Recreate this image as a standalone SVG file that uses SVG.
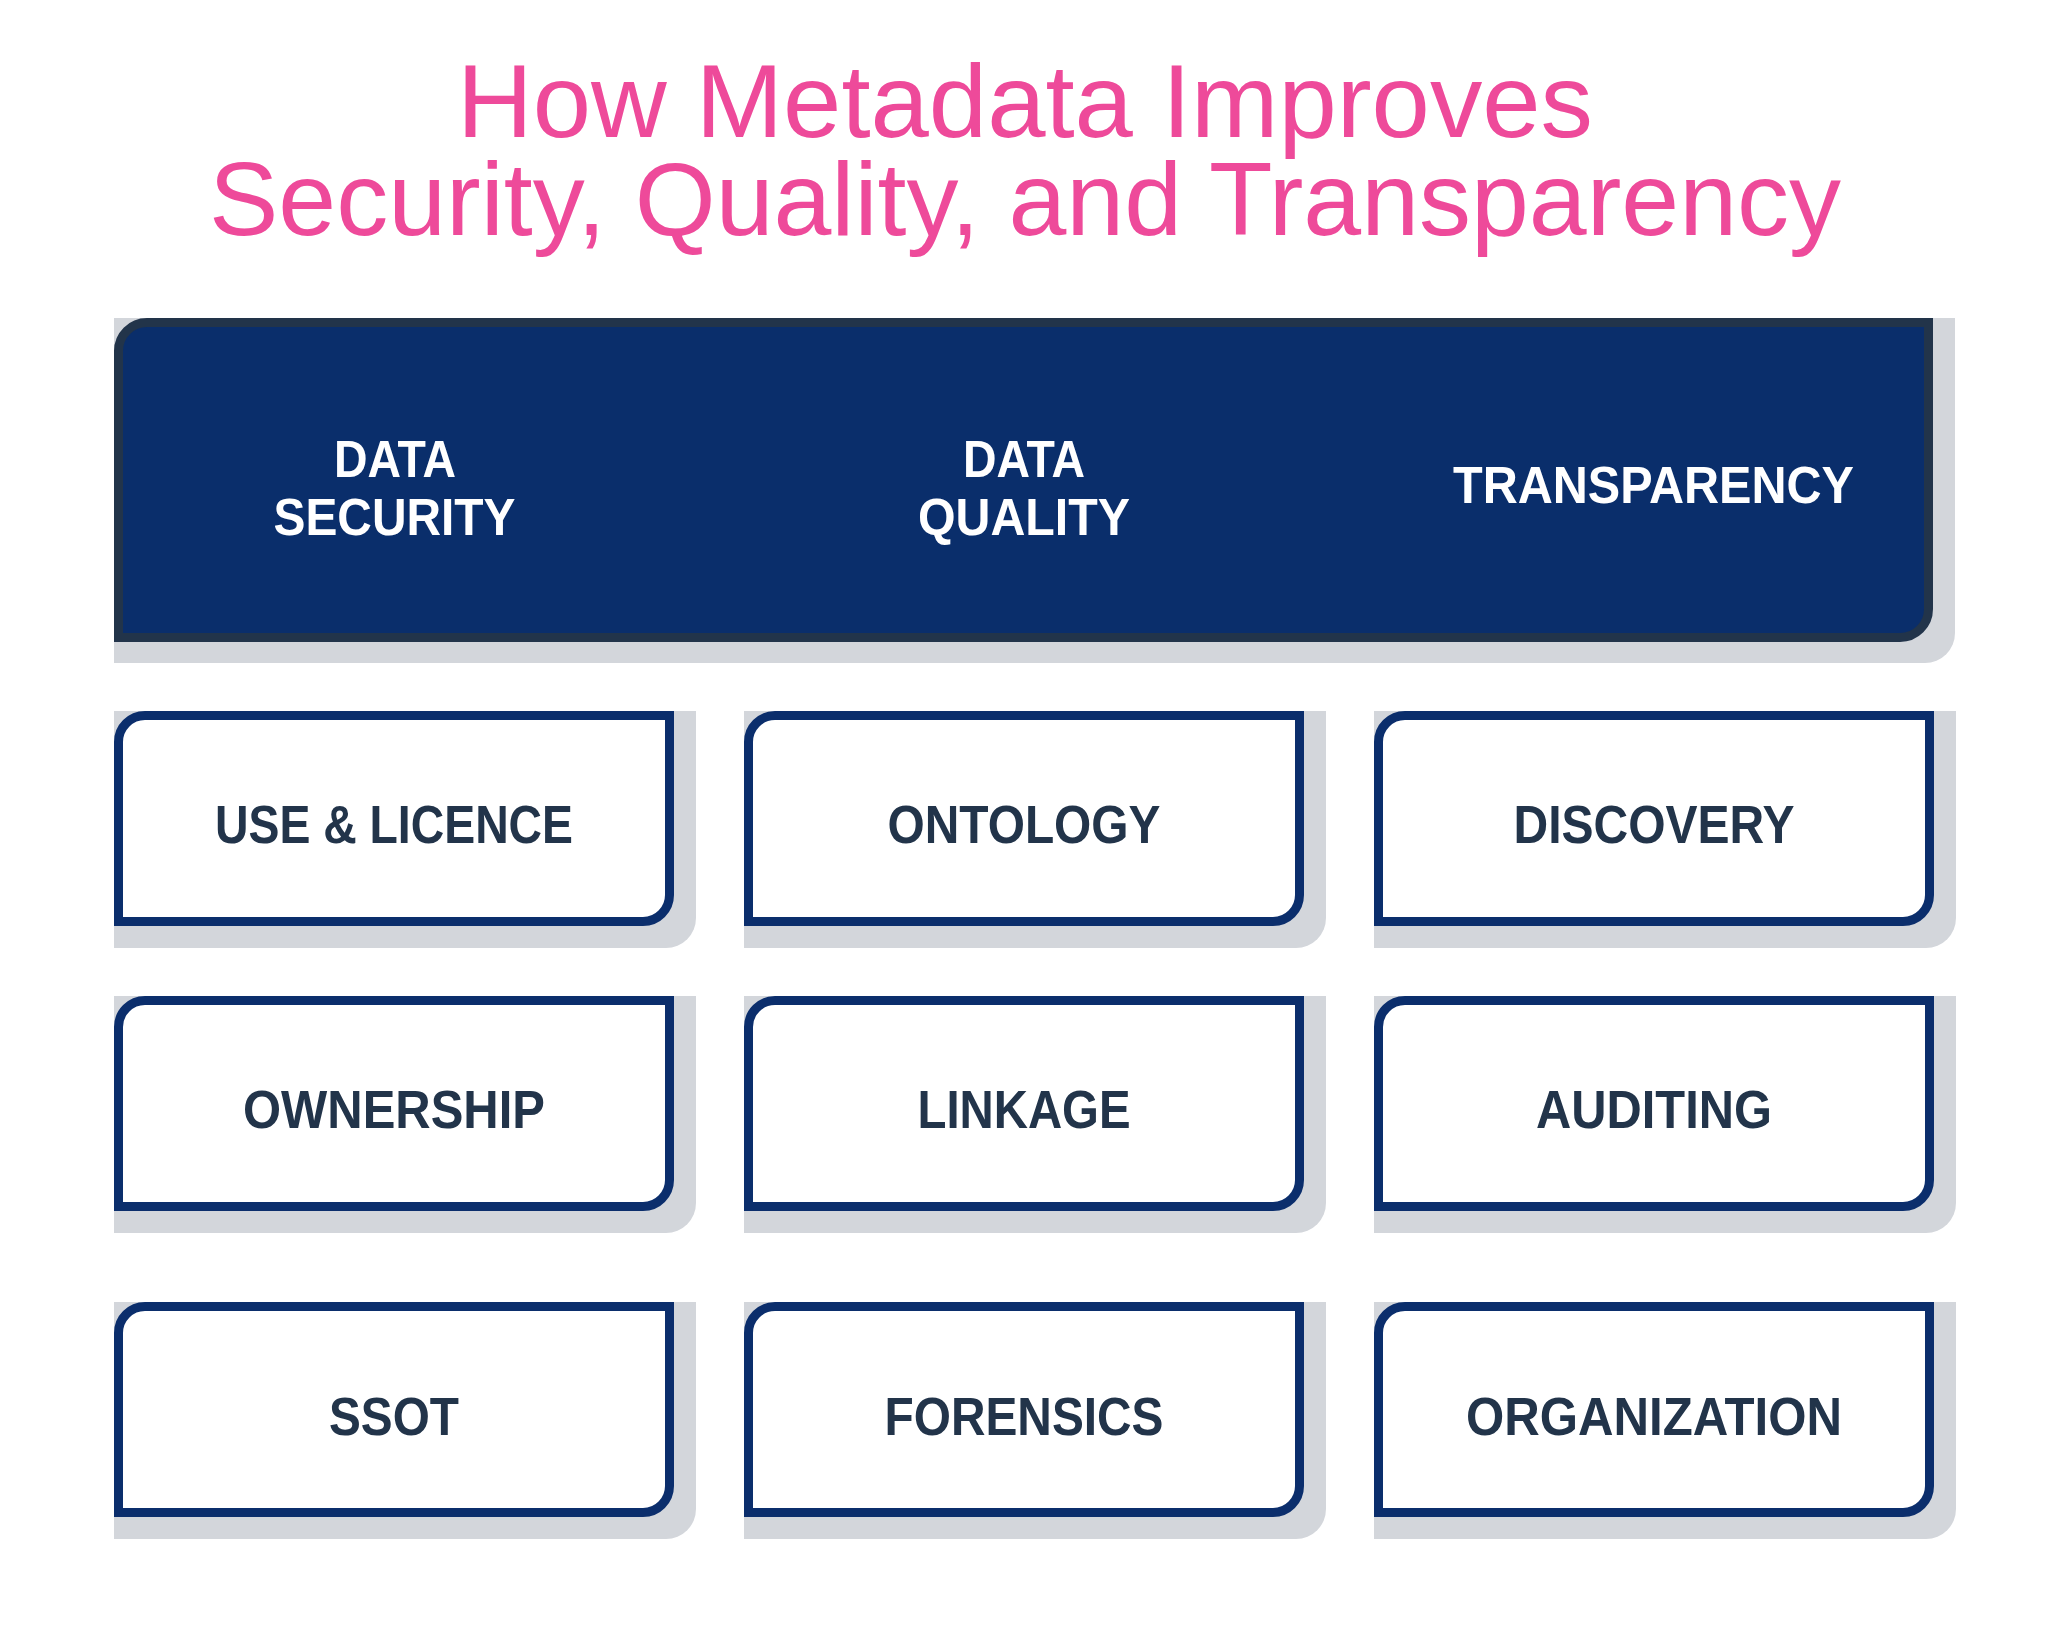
<svg xmlns="http://www.w3.org/2000/svg" width="2048" height="1651" viewBox="0 0 2048 1651">
<style>
.title{font-family:"Liberation Sans",Arial,sans-serif;font-size:104px;fill:#EE4A9A;text-anchor:middle}
.hdr{font-family:"Liberation Sans",Arial,sans-serif;font-weight:bold;font-size:51px;fill:#FFFFFF;text-anchor:middle}
.lbl{font-family:"Liberation Sans",Arial,sans-serif;font-weight:bold;font-size:53px;fill:#22344A;text-anchor:middle}
.shadow{fill:#D3D6DB}
.card{fill:#FFFFFF;stroke:#0B2E6C;stroke-width:9}
</style>
<defs>
<path id="card-shadow" d="M0,0 H582 V207 A30,30 0 0 1 552,237 H0 Z"/>
<path id="card-box" d="M4.5,31 A26.5,26.5 0 0 1 31,4.5 H555.5 V184 A26.5,26.5 0 0 1 529,210.5 H4.5 Z"/>
</defs>
<rect width="2048" height="1651" fill="#FFFFFF"/>
<g id="title">
<text class="title" x="1025" y="137" textLength="1136" lengthAdjust="spacingAndGlyphs">How Metadata Improves</text>
<text class="title" x="1025" y="235" textLength="1632" lengthAdjust="spacingAndGlyphs">Security, Quality, and Transparency</text>
</g>
<g id="header">
<path class="shadow" d="M114,318 H1955 V633 A30,30 0 0 1 1925,663 H114 Z"/>
<path d="M118.5,351 A28.5,28.5 0 0 1 147,322.5 H1928.5 V609 A28.5,28.5 0 0 1 1900,637.5 H118.5 Z" fill="#0A2E6B" stroke="#22344A" stroke-width="9"/>
<text class="hdr" x="395" y="477" textLength="122" lengthAdjust="spacingAndGlyphs">DATA</text>
<text class="hdr" x="394.5" y="535" textLength="242" lengthAdjust="spacingAndGlyphs">SECURITY</text>
<text class="hdr" x="1024" y="477" textLength="122" lengthAdjust="spacingAndGlyphs">DATA</text>
<text class="hdr" x="1024" y="535" textLength="212" lengthAdjust="spacingAndGlyphs">QUALITY</text>
<text class="hdr" x="1653.5" y="503" textLength="401" lengthAdjust="spacingAndGlyphs">TRANSPARENCY</text>
</g>
<g id="node-use-licence" transform="translate(114,711)">
<use href="#card-shadow" class="shadow"/><use href="#card-box" class="card"/>
<text class="lbl" x="280" y="132" textLength="358" lengthAdjust="spacingAndGlyphs">USE &amp; LICENCE</text>
</g>
<g id="node-ontology" transform="translate(744,711)">
<use href="#card-shadow" class="shadow"/><use href="#card-box" class="card"/>
<text class="lbl" x="280" y="132" textLength="273" lengthAdjust="spacingAndGlyphs">ONTOLOGY</text>
</g>
<g id="node-discovery" transform="translate(1374,711)">
<use href="#card-shadow" class="shadow"/><use href="#card-box" class="card"/>
<text class="lbl" x="280" y="132" textLength="281" lengthAdjust="spacingAndGlyphs">DISCOVERY</text>
</g>
<g id="node-ownership" transform="translate(114,996)">
<use href="#card-shadow" class="shadow"/><use href="#card-box" class="card"/>
<text class="lbl" x="280" y="132" textLength="302" lengthAdjust="spacingAndGlyphs">OWNERSHIP</text>
</g>
<g id="node-linkage" transform="translate(744,996)">
<use href="#card-shadow" class="shadow"/><use href="#card-box" class="card"/>
<text class="lbl" x="280" y="132" textLength="213" lengthAdjust="spacingAndGlyphs">LINKAGE</text>
</g>
<g id="node-auditing" transform="translate(1374,996)">
<use href="#card-shadow" class="shadow"/><use href="#card-box" class="card"/>
<text class="lbl" x="280" y="132" textLength="236" lengthAdjust="spacingAndGlyphs">AUDITING</text>
</g>
<g id="node-ssot" transform="translate(114,1302)">
<use href="#card-shadow" class="shadow"/><use href="#card-box" class="card"/>
<text class="lbl" x="280" y="133" textLength="130" lengthAdjust="spacingAndGlyphs">SSOT</text>
</g>
<g id="node-forensics" transform="translate(744,1302)">
<use href="#card-shadow" class="shadow"/><use href="#card-box" class="card"/>
<text class="lbl" x="280" y="133" textLength="279" lengthAdjust="spacingAndGlyphs">FORENSICS</text>
</g>
<g id="node-organization" transform="translate(1374,1302)">
<use href="#card-shadow" class="shadow"/><use href="#card-box" class="card"/>
<text class="lbl" x="280" y="133" textLength="376" lengthAdjust="spacingAndGlyphs">ORGANIZATION</text>
</g>
<g id="connectors"></g>
</svg>
